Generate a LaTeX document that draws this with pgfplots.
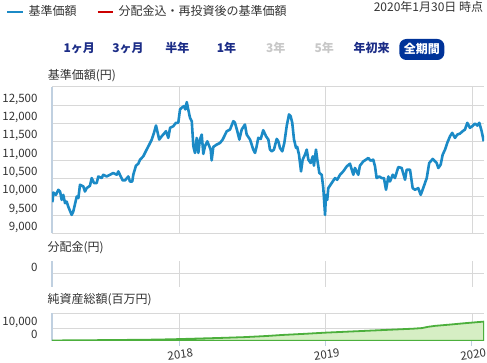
\documentclass[border=0pt]{standalone}
\usepackage{fontspec}
\setmainfont{Noto Sans CJK JP}
\usepackage{pgfplots}
\pgfplotsset{compat=1.18}
\definecolor{lineblue}{RGB}{27,138,198}
\definecolor{legred}{RGB}{204,0,0}
\definecolor{navytxt}{RGB}{28,45,135}
\definecolor{navybg}{RGB}{0,51,153}
\definecolor{disgray}{RGB}{200,200,200}
\definecolor{gridgray}{RGB}{216,216,216}
\definecolor{axisbg}{RGB}{192,208,224}
\definecolor{grline}{RGB}{76,175,60}
\definecolor{grfill}{RGB}{214,238,196}
\definecolor{txt}{RGB}{51,51,51}
\newcommand{\tf}{\fontsize{11.5bp}{13bp}\selectfont}
\newcommand{\hf}{\fontsize{12bp}{14bp}\selectfont}
\pgfplotsset{
  panel/.style={
    scale only axis, width=432bp, anchor=south west,
    xmin=2017.133, xmax=2020.082,
    axis lines*=left,
    xtick={2018,2019,2020},
    scaled x ticks=false, scaled y ticks=false,
    grid=major, major grid style={draw=gridgray, line width=0.8bp},
    y axis line style={draw=axisbg, line width=1.5bp},
    ytick style={draw=none},
    yticklabel style={font=\tf, text=txt, xshift=-11bp, yshift=6bp},
  }
}
\begin{document}
\begin{tikzpicture}
\useasboundingbox (0,0) rectangle (487bp,363bp);
% header legend
\draw[lineblue, line width=2bp] (7.3bp,350.7bp) -- (22.7bp,350.7bp);
\node[anchor=west, inner sep=0, text=txt, font=\hf] at (28.3bp,352bp) {基準価額};
\draw[legred, line width=2bp] (97.7bp,350.7bp) -- (113.3bp,350.7bp);
\node[anchor=west, inner sep=0, text=txt, font=\hf] at (118.3bp,352bp) {分配金込・再投資後の基準価額};
\node[anchor=east, inner sep=0, text=txt, font=\hf] at (483.3bp,356.3bp) {2020年1月30日 時点};
% buttons
\foreach \t/\x/\c in {1ヶ月/79.3/navytxt, 3ヶ月/128/navytxt, 半年/177.3/navytxt, 1年/226.5/navytxt, 3年/275.7/disgray, 5年/324.3/disgray, 年初来/371.7/navytxt}
  \node[inner sep=0, text=\c, font=\hf\bfseries] at (\x bp,314.7bp) {\t};
\fill[navybg, rounded corners=7bp] (399.3bp,303bp) rectangle (444.3bp,324bp);
\node[inner sep=0, text=white, font=\hf\bfseries] at (421.8bp,314.2bp) {全期間};
% axis titles
\node[anchor=west, inner sep=0, text=txt, font=\hf] at (47.7bp,287.3bp) {基準価額(円)};
\node[anchor=west, inner sep=0, text=txt, font=\hf] at (47.3bp,115.7bp) {分配金(円)};
\node[anchor=west, inner sep=0, text=txt, font=\hf] at (47.3bp,63bp) {純資産総額(百万円)};

\begin{axis}[panel, at={(52bp,129.7bp)}, height=146.5bp,
  ymin=9000, ymax=13000,
  x axis line style={draw=none}, xtick style={draw=none}, xticklabels={},
  ytick={9000,9500,...,13000},
  yticklabels={{9,000},{9,500},{10,000},{10,500},{11,000},{11,500},{12,000},{12,500},{}},
]
\addplot[lineblue, line width=2.6bp, line join=round, mark=none] table {
2017.135 9850
2017.138 9913
2017.142 10114
2017.160 10050
2017.176 10188
2017.188 10140
2017.199 9913
2017.210 10050
2017.222 9823
2017.233 9867
2017.244 9730
2017.267 9502
2017.278 9592
2017.302 10004
2017.313 9960
2017.324 10325
2017.347 10278
2017.358 10141
2017.370 10234
2017.392 10297
2017.404 10508
2017.420 10371
2017.438 10371
2017.449 10552
2017.472 10508
2017.483 10599
2017.506 10552
2017.529 10599
2017.551 10646
2017.575 10599
2017.586 10690
2017.602 10552
2017.616 10443
2017.631 10443
2017.654 10552
2017.665 10415
2017.681 10415
2017.688 10599
2017.706 10846
2017.722 10900
2017.734 11010
2017.756 11101
2017.779 11285
2017.797 11422
2017.814 11559
2017.829 11742
2017.843 11943
2017.852 11787
2017.865 11559
2017.882 11650
2017.898 11723
2017.911 11787
2017.927 11605
2017.939 11880
2017.961 11924
2017.979 12017
2017.995 12017
2018.007 12382
2018.018 12428
2018.034 12473
2018.043 12382
2018.053 12582
2018.063 12382
2018.075 12154
2018.087 12061
2018.098 11375
2018.109 11194
2018.121 11605
2018.132 11194
2018.143 11559
2018.155 11696
2018.166 11167
2018.177 11375
2018.193 11512
2018.207 11375
2018.216 11285
2018.223 10991
2018.234 11358
2018.257 11422
2018.280 11468
2018.298 11559
2018.326 11787
2018.348 11833
2018.371 12061
2018.382 12017
2018.398 11787
2018.412 11559
2018.428 11833
2018.450 11970
2018.462 11696
2018.485 11559
2018.507 11285
2018.519 11194
2018.530 11375
2018.541 11605
2018.558 11578
2018.575 11815
2018.594 11650
2018.610 11559
2018.621 11285
2018.633 11238
2018.648 11285
2018.667 11578
2018.678 11512
2018.689 11331
2018.705 11238
2018.719 11468
2018.735 11924
2018.751 12245
2018.762 12199
2018.773 12017
2018.785 11559
2018.799 11331
2018.807 11358
2018.819 11148
2018.833 10690
2018.844 11010
2018.860 11148
2018.872 11285
2018.883 11010
2018.899 10920
2018.913 11101
2018.921 10846
2018.935 11285
2018.944 11010
2018.958 10646
2018.974 10599
2018.985 10234
2018.997 9502
2019.003 10050
2019.012 9913
2019.019 10234
2019.042 10371
2019.065 10508
2019.080 10462
2019.099 10599
2019.121 10690
2019.145 10827
2019.167 10900
2019.190 10599
2019.201 10783
2019.224 10599
2019.235 10846
2019.258 10964
2019.276 11010
2019.292 11056
2019.308 10983
2019.326 11010
2019.338 10827
2019.349 10508
2019.367 10552
2019.384 10508
2019.399 10508
2019.413 10188
2019.429 10552
2019.440 10415
2019.459 10599
2019.474 10508
2019.497 10810
2019.520 10783
2019.543 10462
2019.554 10736
2019.577 10736
2019.595 10234
2019.611 10188
2019.633 10234
2019.650 10050
2019.667 10234
2019.691 10508
2019.708 10920
2019.732 11030
2019.759 10920
2019.770 10783
2019.786 10873
2019.800 11148
2019.816 11285
2019.831 11468
2019.850 11650
2019.865 11742
2019.884 11605
2019.900 11696
2019.918 11723
2019.936 11787
2019.952 11833
2019.968 12017
2019.986 11880
2020.002 11924
2020.020 11998
2020.036 11943
2020.050 12017
2020.066 11787
2020.080 11512
};
\end{axis}

\begin{axis}[panel, at={(52bp,76.3bp)}, height=26bp,
  ymin=-1, ymax=1,
  x axis line style={draw=none}, xtick style={draw=none}, xticklabels={},
  ytick={0}, yticklabels={0},
]
\addplot[draw=none, mark=none] coordinates {(2017.2,0) (2020,0)};
\end{axis}

\begin{axis}[panel, at={(52bp,22.3bp)}, height=27.4bp,
  ymin=0, ymax=22100,
  x axis line style={draw=axisbg, line width=1.5bp},
  xtick style={draw=axisbg, line width=1bp},
  tick align=outside, major tick length=5bp,
  xticklabels={2018,2019,2020},
  xticklabel style={font=\tf, text=txt, rotate=8, anchor=center, yshift=-9bp},
  ytick={0,10000,22100}, yticklabels={0,{10,000},{}},
  yticklabel style={xshift=5bp},
]
\addplot[draw=grline, line width=1.8bp, fill=grfill, mark=none] table {
2017.133 200
2017.30 300
2017.50 500
2017.70 700
2017.85 900
2018.00 1300
2018.15 1800
2018.30 2300
2018.45 2900
2018.60 3800
2018.70 4600
2018.85 5500
2019.00 6500
2019.15 7300
2019.30 8100
2019.45 8900
2019.60 9700
2019.66 10200
2019.70 11200
2019.75 12000
2019.85 13000
2019.95 14100
2020.00 14600
2020.05 15100
2020.082 15400
} \closedcycle;
\end{axis}
\end{tikzpicture}
\end{document}
